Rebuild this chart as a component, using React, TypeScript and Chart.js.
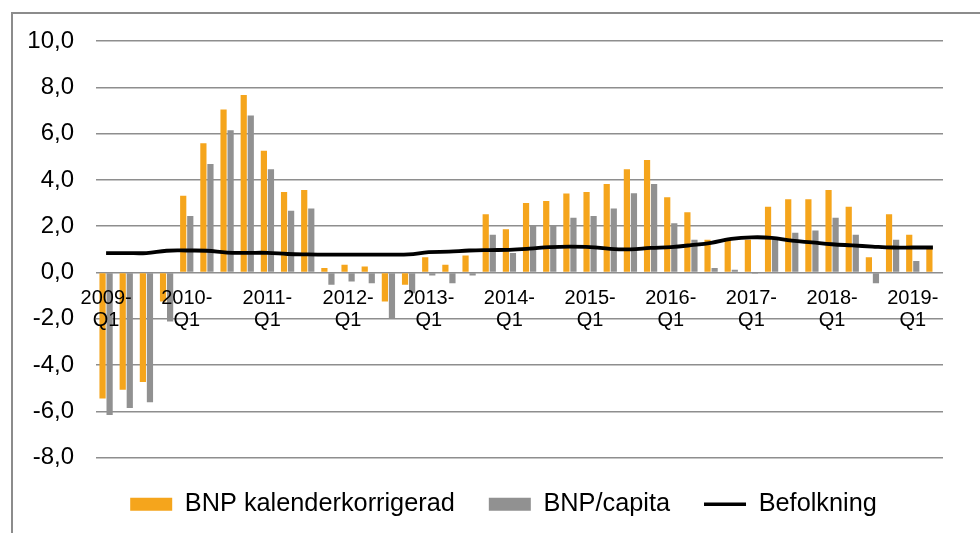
import React, { useEffect, useRef } from "react";
import { Chart, registerables } from "chart.js";

Chart.register(...registerables);

const quarters: string[] = [];
const years = [2009, 2010, 2011, 2012, 2013, 2014, 2015, 2016, 2017, 2018, 2019];
for (const y of years) for (const q of ["Q1", "Q2", "Q3", "Q4"]) quarters.push(`${y}-${q}`);
const categories = quarters.slice(0, 42);

const bnpKalender: (number | null)[] = [
  -5.44, -5.06, -4.73, -1.25,
  3.32, 5.58, 7.04, 7.67,
  5.26, 3.48, 3.56, 0.19,
  0.33, 0.26, -1.25, -0.53,
  0.66, 0.33, 0.73, 2.52,
  1.87, 3.0, 3.09, 3.41,
  3.48, 3.82, 4.46, 4.86,
  3.25, 2.6, 1.41, 1.48,
  1.41, 2.84, 3.16, 3.16,
  3.56, 2.84, 0.66, 2.52,
  1.63, 1.1,
];

const bnpCapita: (number | null)[] = [
  -6.16, -5.85, -5.6, -2.12,
  2.44, 4.69, 6.15, 6.78,
  4.46, 2.67, 2.76, -0.53,
  -0.39, -0.46, -1.98, -0.9,
  -0.13, -0.46, -0.13, 1.63,
  0.84, 2.03, 2.03, 2.36,
  2.44, 2.76, 3.42, 3.82,
  2.13, 1.41, 0.19, 0.12,
  -0.05, 1.45, 1.72, 1.81,
  2.36, 1.63, -0.46, 1.41,
  0.5, null,
];

const befolkning: number[] = [
  0.84, 0.84, 0.84, 0.94,
  0.95, 0.94, 0.86, 0.85,
  0.85, 0.8, 0.78, 0.77,
  0.77, 0.77, 0.77, 0.78,
  0.88, 0.9, 0.95, 0.97,
  0.98, 1.03, 1.1, 1.12,
  1.1, 1.02, 1.0, 1.06,
  1.1, 1.18, 1.28, 1.45,
  1.52, 1.5, 1.38, 1.3,
  1.22, 1.17, 1.12, 1.08,
  1.08, 1.08,
];

const seriesNames = ["BNP kalenderkorrigerad", "BNP/capita", "Befolkning"];
const yTicks = { min: -8, max: 10, step: 2 };

const ORANGE = "#F5A51C";
const GREY = "#919191";
const BLACK = "#000000";
const GRID = "#8E8E8E";

export default function App() {
  const canvasRef = useRef<HTMLCanvasElement | null>(null);

  useEffect(() => {
    if (!canvasRef.current) return;
    Chart.defaults.font.family = "'Liberation Sans', Arial, sans-serif";
    Chart.defaults.color = "#000";
    const chart = new Chart(canvasRef.current, {
      type: "bar",
      data: {
        labels: categories,
        datasets: [
          {
            type: "bar",
            label: seriesNames[0],
            data: bnpKalender,
            backgroundColor: ORANGE,
            borderWidth: 0,
            categoryPercentage: 0.7,
            barPercentage: 0.88,
            order: 1,
          },
          {
            type: "bar",
            label: seriesNames[1],
            data: bnpCapita,
            backgroundColor: GREY,
            borderWidth: 0,
            categoryPercentage: 0.7,
            barPercentage: 0.88,
            order: 1,
          },
          {
            type: "line",
            label: seriesNames[2],
            data: befolkning,
            borderColor: BLACK,
            backgroundColor: BLACK,
            borderWidth: 3.8,
            pointRadius: 0,
            tension: 0.4,
            fill: false,
            order: 0,
          },
        ],
      },
      options: {
        animation: false,
        responsive: true,
        maintainAspectRatio: false,
        layout: { padding: { top: 41, left: 27, right: 0, bottom: 6 } },
        plugins: {
          tooltip: { enabled: false },
          legend: {
            position: "bottom",
            labels: {
              font: { size: 25.3 },
              color: "#000",
              usePointStyle: true,
              pointStyleWidth: 42,
              boxHeight: 13,
              padding: 34,
              generateLabels: () => [
                { text: seriesNames[0], fillStyle: ORANGE, strokeStyle: ORANGE, lineWidth: 0, pointStyle: "rect", datasetIndex: 0, hidden: false },
                { text: seriesNames[1], fillStyle: GREY, strokeStyle: GREY, lineWidth: 0, pointStyle: "rect", datasetIndex: 1, hidden: false },
                { text: seriesNames[2], fillStyle: BLACK, strokeStyle: BLACK, lineWidth: 3.5, pointStyle: "line", datasetIndex: 2, hidden: false },
              ] as any,
            },
          },
        },
        scales: {
          x: {
            position: { y: 0 } as any,
            grid: { display: false, drawTicks: false, tickLength: 0 },
            border: { display: false },
            ticks: {
              z: 1,
              autoSkip: false,
              maxRotation: 0,
              minRotation: 0,
              padding: 15,
              font: { size: 20, lineHeight: 1.1 },
              color: "#000",
              callback: (_v: any, i: number) => {
                const c = categories[i];
                if (i % 4 !== 0) return "";
                const [yr, q] = c.split("-");
                return [yr + "-", q];
              },
            },
          },
          y: {
            position: "left",
            min: yTicks.min,
            max: yTicks.max,
            afterFit: (s: any) => { s.width = 69; },
            grid: { color: GRID, lineWidth: 1.6, drawTicks: false, tickLength: 0 },
            border: { display: false },
            ticks: {
              stepSize: yTicks.step,
              padding: 22,
              font: { size: 24 },
              color: "#000",
              callback: (v: any) => Number(v).toFixed(1).replace(".", ","),
            },
          },
          y2: {
            position: "right",
            display: true,
            min: yTicks.min,
            max: yTicks.max,
            afterFit: (s: any) => { s.width = 37; },
            grid: { display: false, drawTicks: false },
            border: { display: false },
            ticks: { display: false },
          },
        },
      },
    });
    return () => chart.destroy();
  }, []);

  return (
    <div style={{ position: "fixed", left: 0, top: 0, width: 980, height: 533, overflow: "hidden", background: "#fff" }}>
      <div
        style={{
          position: "absolute",
          left: 11,
          top: 12,
          width: 1000,
          height: 600,
          borderLeft: "2px solid #8c8c8c",
          borderTop: "2px solid #8c8c8c",
        }}
      />
      <div style={{ position: "absolute", left: 0, top: 0, width: 980, height: 533 }}>
        <canvas ref={canvasRef} />
      </div>
    </div>
  );
}
